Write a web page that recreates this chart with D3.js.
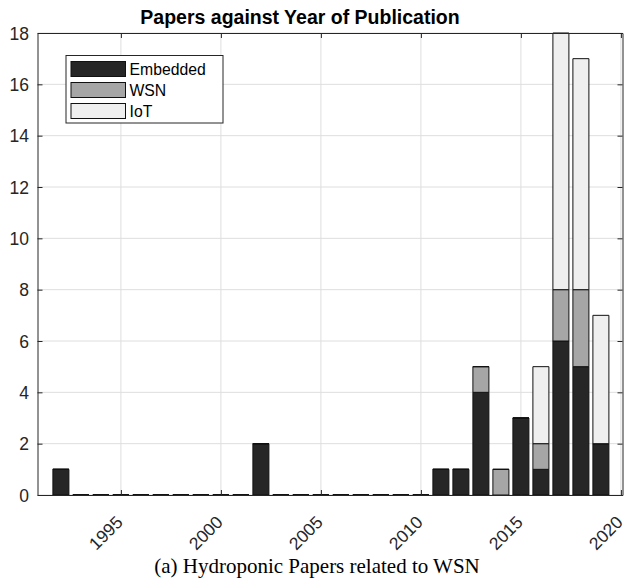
<!DOCTYPE html>
<html>
<head>
<meta charset="utf-8">
<script src="https://cdn.jsdelivr.net/npm/d3@7"></script>
<style>
  html, body { margin: 0; padding: 0; background: #fff; }
  svg { display: block; }
</style>
</head>
<body>
<svg id="chart" width="626" height="583"></svg>
<script>
// Papers per publication year, split by topic
const years    = [1992,1993,1994,1995,1996,1997,1998,1999,2000,2001,2002,2003,2004,2005,2006,2007,2008,2009,2010,2011,2012,2013,2014,2015,2016,2017,2018,2019];
const embedded = [1,0,0,0,0,0,0,0,0,0,2,0,0,0,0,0,0,0,0,1,1,4,0,3,1,6,5,2];
const wsn      = [0,0,0,0,0,0,0,0,0,0,0,0,0,0,0,0,0,0,0,0,0,1,1,0,1,2,3,0];
const iot      = [0,0,0,0,0,0,0,0,0,0,0,0,0,0,0,0,0,0,0,0,0,0,0,0,3,10,9,5];
const seriesNames = ["Embedded", "WSN", "IoT"];
const seriesColors = ["#262626", "#a6a6a6", "#efefef"];
const xTickValues = [1995, 2000, 2005, 2010, 2015, 2020];
const yTickValues = [0, 2, 4, 6, 8, 10, 12, 14, 16, 18];
const titleText = "Papers against Year of Publication";
const captionText = "(a) Hydroponic Papers related to WSN";

const svg = d3.select("#chart");
const margin = { left: 37.5, right: 3.5, top: 33, bottom: 88 };
const W = 626, H = 583;
const axisColor = "#262626";
const sans = "'Liberation Sans', Arial, Helvetica, sans-serif";

const x = d3.scaleLinear().domain([1990.83, 2020.08]).range([margin.left, W - margin.right]);
const y = d3.scaleLinear().domain([0, 18]).range([H - margin.bottom, margin.top]);
const barW = x(1990.83 + 0.8) - x(1990.83);

const table = years.map((yr, i) => ({ year: yr, Embedded: embedded[i], WSN: wsn[i], IoT: iot[i] }));
const stacked = d3.stack().keys(seriesNames)(table);

// grid
const grid = svg.append("g").attr("stroke", "#dedede").attr("stroke-width", 1);
xTickValues.forEach(v => grid.append("line")
  .attr("x1", x(v)).attr("x2", x(v)).attr("y1", y(0)).attr("y2", y(18)));
yTickValues.forEach(v => grid.append("line")
  .attr("x1", x.range()[0]).attr("x2", x.range()[1]).attr("y1", y(v)).attr("y2", y(v)));

// stacked bars (drawn as paths so zero-height segments still show their outline)
stacked.forEach((layer, si) => {
  svg.append("g").selectAll("path").data(layer).join("path")
    .attr("d", d => {
      const x0 = x(d.data.year) - barW / 2;
      const yTop = y(d[1]), yBot = y(d[0]);
      return `M${x0},${yBot}H${x0 + barW}V${yTop}H${x0}Z`;
    })
    .attr("fill", seriesColors[si])
    .attr("stroke", "#111")
    .attr("stroke-width", 1);
});

// axes box
const gx = svg.append("g").attr("transform", `translate(0,${y(0)})`)
  .call(d3.axisBottom(x).tickValues(xTickValues).tickFormat(d3.format("d")).tickSizeInner(-5).tickSizeOuter(0));
const gxTop = svg.append("g").attr("transform", `translate(0,${y(18)})`)
  .call(d3.axisTop(x).tickValues(xTickValues).tickFormat("").tickSizeInner(-5).tickSizeOuter(0));
const gy = svg.append("g").attr("transform", `translate(${x.range()[0]},0)`)
  .call(d3.axisLeft(y).tickValues(yTickValues).tickSizeInner(-5).tickSizeOuter(0));
const gyRight = svg.append("g").attr("transform", `translate(${x.range()[1]},0)`)
  .call(d3.axisRight(y).tickValues(yTickValues).tickFormat("").tickSizeInner(-5).tickSizeOuter(0));

[gx, gxTop, gy, gyRight].forEach(g => {
  g.select(".domain").attr("stroke", axisColor).attr("stroke-width", 1);
  g.selectAll(".tick line").attr("stroke", axisColor).attr("stroke-width", 1);
});

gy.selectAll(".tick text")
  .attr("x", -8.5)
  .attr("dy", "0.36em")
  .attr("fill", axisColor)
  .style("font-family", sans).style("font-size", "17.5px");

gx.selectAll(".tick text")
  .attr("y", 0).attr("dy", "0.36em")
  .attr("text-anchor", "end")
  .attr("transform", "translate(-2,24) rotate(-45)")
  .attr("fill", axisColor)
  .style("font-family", sans).style("font-size", "17.5px");

// title
svg.append("text")
  .attr("x", 300).attr("y", 24)
  .attr("text-anchor", "middle")
  .attr("fill", "#000")
  .style("font-family", sans).style("font-weight", "bold").style("font-size", "19.5px")
  .text(titleText);

// legend
const lg = svg.append("g");
lg.append("rect")
  .attr("x", 66).attr("y", 55.5).attr("width", 157).attr("height", 67.5)
  .attr("fill", "#fff").attr("stroke", axisColor).attr("stroke-width", 1);
seriesNames.forEach((name, i) => {
  const ry = 61.5 + i * 21;
  lg.append("rect")
    .attr("x", 71).attr("y", ry).attr("width", 54.5).attr("height", 15)
    .attr("fill", seriesColors[i]).attr("stroke", "#111").attr("stroke-width", 1);
  lg.append("text")
    .attr("x", 129.5).attr("y", ry + 7.5).attr("dy", "0.36em")
    .attr("fill", "#000")
    .style("font-family", sans).style("font-size", "15.75px")
    .text(name);
});

// caption
svg.append("text")
  .attr("x", 317).attr("y", 573)
  .attr("text-anchor", "middle")
  .attr("fill", "#000")
  .style("font-family", "'Liberation Serif', 'Times New Roman', serif").style("font-size", "21px")
  .text(captionText);
</script>
</body>
</html>
